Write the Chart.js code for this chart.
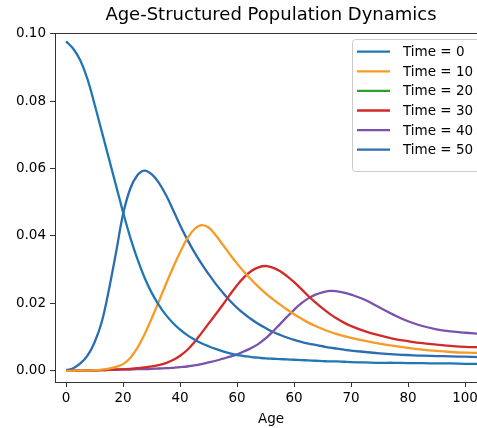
<!DOCTYPE html>
<html><head><meta charset="utf-8">
<script src="https://cdn.jsdelivr.net/npm/chart.js@4/dist/chart.umd.min.js"></script>
<style>
html,body{margin:0;padding:0;background:#fff;overflow:hidden;width:477px;height:428px}
#wrap{position:absolute;left:0;top:0;width:500px;height:428px}
</style></head>
<body><div id="wrap"><canvas id="c" width="500" height="428"></canvas></div>
<script>
const ages=[0,2.5,5,7.5,10,12.5,15,17.5,20,22.5,25,27.5,30,32.5,35,37.5,40,42.5,45,47.5,50,52.5,55,57.5,60,62.5,65,67.5,70,72.5,75,77.5,80,82.5,85,87.5,90,92.5,95,97.5,100,105,110,115,120,125,130,135,140,145];
const timeZero=[.0977,.0955,.0920,.0865,.0790,.0710,.0630,.0550,.0470,.0396,.0332,.0277,.0232,.0196,.0166,.0142,.0122,.0106,.0093,.0082,.0073,.0065,.0058,.0052,.0047,.0044,.0041,.0039,.0037,.0036,.0035,.0034,.0033,.0032,.0031,.0030,.0029,.0028,.0028,.0027,.0026,.0025,.0024,.0024,.0023,.0023,.0022,.0022,.0021,.0021];
const timeTen=[0,0,.0001,.0001,.0002,.0004,.0007,.0012,.0020,.0038,.0068,.0108,.0155,.0205,.0257,.0306,.0352,.0392,.0420,.0432,.0425,.0402,.0374,.0345,.0318,.0293,.0270,.0249,.0230,.0213,.0197,.0182,.0168,.0155,.0143,.0133,.0124,.0116,.0109,.0103,.0098,.0089,.0081,.0074,.0068,.0063,.0059,.0056,.0054,.0053];
const timeTwenty=[];
const timeThirty=[0,0,0,.0001,.0001,.0002,.0003,.0004,.0005,.0006,.0008,.0010,.0013,.0017,.0023,.0032,.0045,.0062,.0085,.0112,.0140,.0168,.0196,.0226,.0254,.0278,.0296,.0307,.0311,.0306,.0296,.0281,.0263,.0243,.0222,.0203,.0185,.0169,.0155,.0143,.0133,.0117,.0105,.0095,.0088,.0082,.0078,.0074,.0071,.0070];
const timeForty=[0,.0001,.0001,.0001,.0002,.0002,.0003,.0003,.0004,.0004,.0005,.0005,.0006,.0007,.0008,.0009,.0011,.0013,.0016,.0020,.0025,.0030,.0036,.0042,.0049,.0058,.0068,.0080,.0096,.0116,.0138,.0160,.0181,.0200,.0215,.0226,.0233,.0237,.0236,.0232,.0226,.0210,.0188,.0166,.0147,.0133,.0123,.0117,.0113,.0110];
const timeFifty=[.0002,.0008,.0022,.0045,.0085,.0145,.0240,.0350,.0465,.0540,.0580,.0594,.0583,.0558,.0522,.0478,.0432,.0390,.0352,.0318,.0287,.0258,.0232,.0208,.0187,.0169,.0153,.0139,.0127,.0116,.0107,.0099,.0092,.0086,.0081,.0077,.0073,.0069,.0066,.0063,.0060,.0056,.0052,.0049,.0047,.0045,.0044,.0043,.0042,.0041];
const seriesLabels=['Time = 0','Time = 10','Time = 20','Time = 30','Time = 40','Time = 50'];
const xTickValues=[0,20,40,60,80,100,120,140];
const xTickLabels=['0','20','40','60','60','70','80','100'];
const yTickValues=[0,0.02,0.04,0.06,0.08,0.10];

const FONT="'DejaVu Sans', sans-serif";
const colors=['#1f77b4','#f59b26','#2ca02c','#d12a28','#7b52ab','#2a6db0'];
const seriesData=[timeZero,timeTen,timeTwenty,timeThirty,timeForty,timeFifty];
const pts=arr=>arr.map((v,i)=>({x:ages[i],y:v}));

const frame={id:'frame',afterDatasetsDraw(chart){
  const {ctx,chartArea:a}=chart;ctx.save();ctx.strokeStyle='#333';ctx.lineWidth=1;
  ctx.strokeRect(Math.round(a.left)+0.5,Math.round(a.top)+0.5,Math.round(a.right-a.left),Math.round(a.bottom-a.top));
  ctx.restore();}};
const legendBox={id:'legendBox',afterDraw(chart){
  const ctx=chart.ctx;ctx.save();
  const x0=352.5,y0=39.5,w=140,h=132,r=3;
  ctx.beginPath();ctx.moveTo(x0+r,y0);ctx.lineTo(x0+w-r,y0);ctx.arcTo(x0+w,y0,x0+w,y0+r,r);
  ctx.lineTo(x0+w,y0+h-r);ctx.arcTo(x0+w,y0+h,x0+w-r,y0+h,r);ctx.lineTo(x0+r,y0+h);
  ctx.arcTo(x0,y0+h,x0,y0+h-r,r);ctx.lineTo(x0,y0+r);ctx.arcTo(x0,y0,x0+r,y0,r);ctx.closePath();
  ctx.fillStyle='rgba(255,255,255,0.8)';ctx.fill();ctx.strokeStyle='#cccccc';ctx.lineWidth=1;ctx.stroke();
  ctx.font='13.5px '+FONT;ctx.textBaseline='middle';ctx.textAlign='left';
  chart.data.datasets.forEach((ds,i)=>{
    const y=51.7+i*19.6;
    ctx.strokeStyle=ds.borderColor;ctx.lineWidth=2.3;ctx.beginPath();ctx.moveTo(357,y);ctx.lineTo(390,y);ctx.stroke();
    ctx.fillStyle='#000';ctx.fillText(ds.label,403,y+1);
  });
  ctx.restore();}};

new Chart(document.getElementById('c'),{
  type:'line',
  data:{datasets:seriesLabels.map((l,i)=>({label:l,data:pts(seriesData[i]),borderColor:colors[i],backgroundColor:colors[i],borderWidth:2.3,pointRadius:0,fill:false,tension:0.4}))},
  options:{
    responsive:false,devicePixelRatio:1,animation:false,
    layout:{padding:{left:0,right:13,top:0,bottom:0}},
    plugins:{
      legend:{display:false},tooltip:{enabled:false},
      title:{display:true,text:'Age-Structured Population Dynamics',fullSize:false,color:'#000',font:{family:FONT,size:18,weight:'normal'},padding:{top:5,bottom:6}}
    },
    scales:{
      x:{type:'linear',min:-3.9,max:147.7,
        afterBuildTicks:s=>{s.ticks=xTickValues.map(v=>({value:v}));},
        afterFit:s=>{s.height=46;},
        ticks:{callback:(v,i)=>xTickLabels[i],font:{family:FONT,size:13.5},color:'#000',padding:3,maxRotation:0,autoSkip:false},
        grid:{drawOnChartArea:false,drawTicks:true,tickLength:5,color:'#333'},
        border:{display:false},
        title:{display:true,text:'Age',color:'#000',font:{family:FONT,size:13.5},padding:{top:2,bottom:0}}},
      y:{type:'linear',min:-0.0033,max:0.1003,
        afterBuildTicks:s=>{s.ticks=yTickValues.map(v=>({value:v}));},
        afterFit:s=>{s.width=55;},
        ticks:{callback:v=>Number(v).toFixed(2),font:{family:FONT,size:13.5},color:'#000',padding:4},
        grid:{drawOnChartArea:false,drawTicks:true,tickLength:5,color:'#333'},
        border:{display:false}}
    }
  },
  plugins:[frame,legendBox]
});
</script></body></html>
